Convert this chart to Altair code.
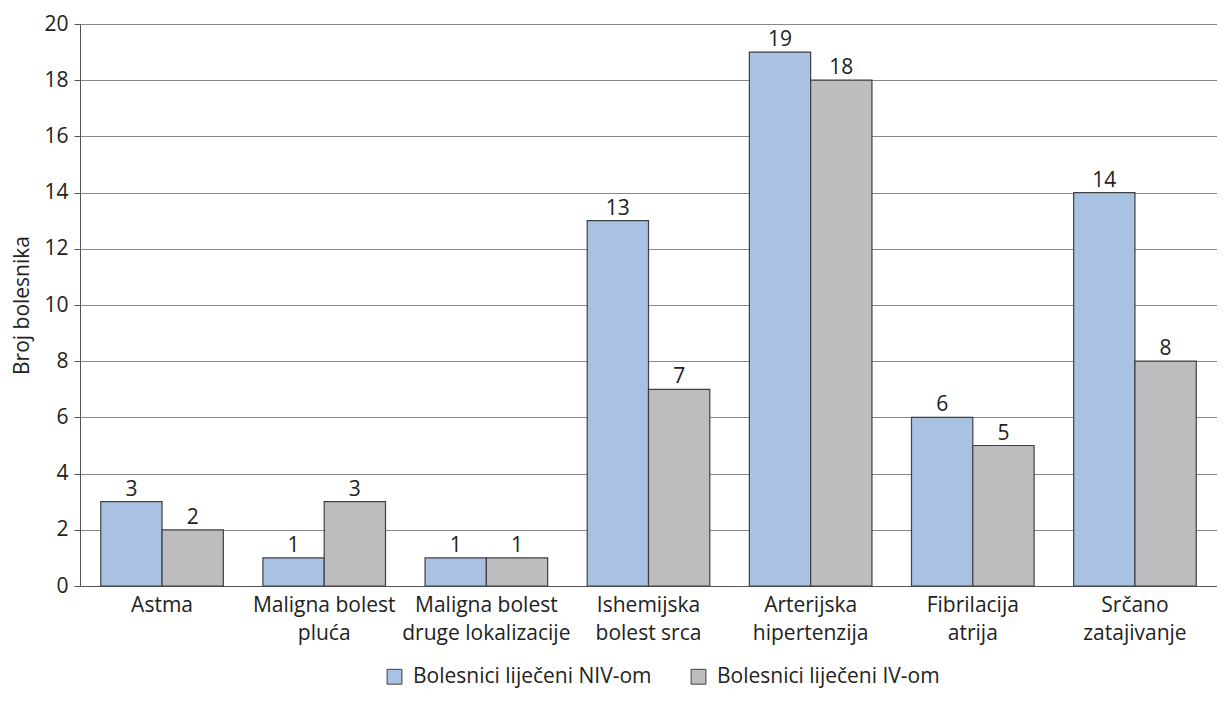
import altair as alt
import pandas as pd

categories = ["Astma", "Maligna bolest|pluća", "Maligna bolest|druge lokalizacije",
              "Ishemijska|bolest srca", "Arterijska|hipertenzija", "Fibrilacija|atrija",
              "Srčano|zatajivanje"]
series_names = ["Bolesnici liječeni NIV-om", "Bolesnici liječeni IV-om"]
niv_values = [3, 1, 1, 13, 19, 6, 14]
iv_values = [2, 3, 1, 7, 18, 5, 8]
colors = ["#A9C1E3", "#BDBDC0"]

rows = []
for c, a, b in zip(categories, niv_values, iv_values):
    rows.append({"cat": c, "series": series_names[0], "value": a})
    rows.append({"cat": c, "series": series_names[1], "value": b})
df = pd.DataFrame(rows)

FONT = "Open Sans"
FS = 21

x = alt.X("cat:N", sort=categories, title=None,
          scale=alt.Scale(paddingInner=0.244, paddingOuter=0.128),
          axis=alt.Axis(labelExpr="split(datum.label, '|')", labelAngle=0,
                        labelFontSize=FS, labelColor="#222222", labelFont=FONT,
                        labelLineHeight=28, labelPadding=8, ticks=False,
                        domainColor="#555555", labelBaseline="top", labelLimit=400))
xo = alt.XOffset("series:N", sort=series_names, scale=alt.Scale(paddingInner=0))
y = alt.Y("value:Q", title="Broj bolesnika",
          scale=alt.Scale(domain=[0, 20], nice=False),
          axis=alt.Axis(values=list(range(0, 21, 2)), labelFontSize=FS, labelFont=FONT,
                        labelColor="#222222", tickSize=6, tickColor="#555555",
                        domainColor="#555555", gridColor="#888888", gridWidth=1,
                        titleFontSize=FS, titleFont=FONT, titleFontWeight="normal",
                        titleColor="#222222", titlePadding=11, labelPadding=6))

bars = alt.Chart(df).mark_bar(stroke="#404040", strokeWidth=1.2).encode(
    x=x, xOffset=xo, y=y,
    color=alt.Color("series:N", sort=series_names,
                    scale=alt.Scale(domain=series_names, range=colors),
                    legend=alt.Legend(title=None, orient="none", direction="horizontal",
                                      legendX=304, legendY=642,
                                      symbolType="square", symbolSize=220,
                                      symbolStrokeColor="#404040", symbolStrokeWidth=1,
                                      labelFontSize=FS, labelFont=FONT,
                                      labelColor="#222222", columnPadding=36,
                                      labelOffset=8, labelLimit=400))
)

labels = alt.Chart(df).mark_text(dy=-12, fontSize=FS, font=FONT, color="#222222").encode(
    x=alt.X("cat:N", sort=categories), xOffset=xo, y="value:Q", text="value:Q"
)

chart = (bars + labels).properties(
    width=1137, height=562,
    padding={"left": 3, "top": 5, "right": 0, "bottom": 4}
).configure_view(
    stroke="#888888", strokeWidth=1
).configure(background="white")

chart.save("out.html", embed_options={"renderer": "svg", "actions": False})
